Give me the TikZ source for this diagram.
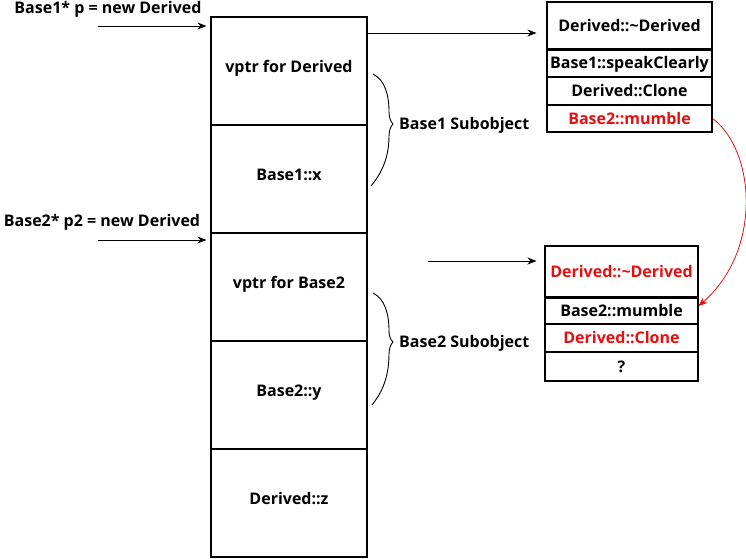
\documentclass[tikz,border=0pt]{standalone}
\usepackage{fontspec}
\setmainfont{Open Sans}
\usetikzlibrary{arrows.meta}
\definecolor{myred}{RGB}{228,16,16}
\begin{document}
\begin{tikzpicture}[x=1pt,y=-1pt,
  font=\bfseries\fontsize{16}{19}\selectfont,
  mcell/.style={draw, line width=1.1pt, minimum width=156pt, minimum height=108pt, inner sep=0pt, text height=11.5pt, text depth=8pt},
  tcell/.style={draw, line width=1.1pt, minimum width=165pt, inner sep=0pt, text height=11.5pt, text depth=0pt},
  ucell/.style={draw, line width=1.1pt, minimum width=153pt, inner sep=0pt, text height=11.5pt, text depth=0pt},
  arr/.style={line width=0.8pt, -{Stealth[length=9pt,width=7pt]}},
  rarr/.style={draw=myred, line width=0.8pt, -{Stealth[length=9pt,width=7pt]}},
  brace/.style={line width=0.9pt},
  lbl/.style={inner sep=0pt}]
\useasboundingbox (0,0) rectangle (746,558);

% main column
\node[mcell] (m1) at (289,71) {vptr for Derived};
\node[mcell] (m2) at (289,179) {Base1::x};
\node[mcell] (m3) at (289,287) {vptr for Base2};
\node[mcell] (m4) at (289,395) {Base2::y};
\node[mcell] (m5) at (289,503) {Derived::z};

% pointer labels
\node[lbl] (p1) at (108,9) {Base1* p = new Derived};
\coordinate (s1) at (98,26);
\draw[arr, shorten >=4pt] (s1) -- (m1.west |- s1);
\node[lbl] (p2) at (102,222) {Base2* p2 = new Derived};
\coordinate (s2) at (98,240);
\draw[arr, shorten >=4pt] (s2) -- (m3.west |- s2);

% top vtable
\node[tcell, minimum height=47pt] (t1) at (629.5,25.5) {Derived::\char"7E Derived};
\node[tcell, minimum height=28pt] (t2) at (629.5,63) {Base1::speakClearly};
\node[tcell, minimum height=28pt] (t3) at (629.5,91) {Derived::Clone};
\node[tcell, minimum height=27pt, text=myred] (t4) at (629.5,118.5) {Base2::mumble};
\draw[line width=2pt] (t1.south west) -- (t1.south east);

% bottom vtable
\node[ucell, minimum height=51pt, text=myred] (u1) at (621.5,271.5) {Derived::\char"7E Derived};
\node[ucell, minimum height=27pt] (u2) at (621.5,310.5) {Base2::mumble};
\node[ucell, minimum height=28pt, text=myred] (u3) at (621.5,338) {Derived::Clone};
\node[ucell, minimum height=29pt] (u4) at (621.5,366.5) {?};
\draw[line width=2pt] (u1.south west) -- (u1.south east);

% arrows to vtables
\coordinate (a1) at (367,33);
\draw[arr, shorten >=10pt] (a1) -- (t1.west |- a1);
\coordinate (a2) at (428,261);
\draw[arr, shorten >=8pt] (a2) -- (u1.west |- a2);

% red curved arrow
\draw[rarr] (t4.east) .. controls (755,150) and (763,250) .. ([yshift=4.5pt]u2.east);

% braces
\draw[brace] (373,74) .. controls (385,80) and (389,95) .. (389,112)
  .. controls (389,118) and (391,122) .. (393,124)
  .. controls (391,126) and (389,130) .. (389,136)
  .. controls (389,160) and (380,175) .. (371,186);
\node[lbl, anchor=west] (b1) at (399,125) {Base1 Subobject};

\draw[brace] (373,293) .. controls (385,299) and (389,314) .. (389,331)
  .. controls (389,337) and (391,340) .. (393,342)
  .. controls (391,344) and (389,348) .. (389,354)
  .. controls (389,380) and (380,395) .. (372,405);
\node[lbl, anchor=west] (b2) at (399,343) {Base2 Subobject};
\end{tikzpicture}
\end{document}
